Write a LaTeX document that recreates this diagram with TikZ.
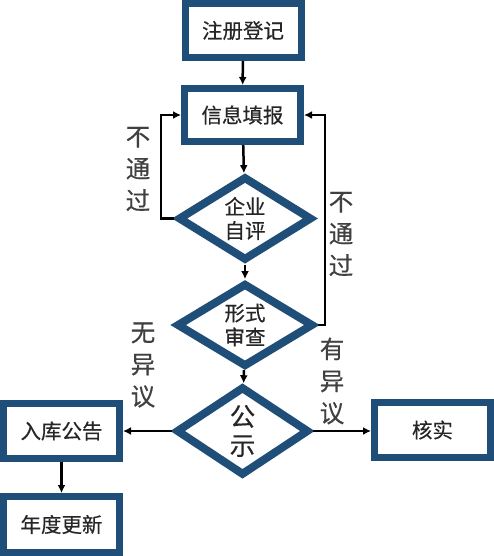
\documentclass[tikz,border=0pt]{standalone}
\usepackage{fontspec}
\setmainfont{Noto Sans CJK SC}[FakeBold=0.4]
\usetikzlibrary{shapes.geometric,arrows.meta}
\definecolor{bord}{HTML}{1F4E79}
\definecolor{txt}{HTML}{262626}
\definecolor{lbl}{HTML}{404040}
\begin{document}
\begin{tikzpicture}[x=1pt,y=-1pt,
  boxnode/.style={draw=bord,line width=7pt,rectangle,inner sep=0pt,
    minimum width=116pt,minimum height=54pt,text=txt,font=\fontsize{20.5}{23}\selectfont},
  dia/.style={draw=bord,line width=8pt,diamond,line join=miter,inner sep=0pt,
    text=txt,font=\fontsize{20.5}{24}\selectfont,align=center},
  conn/.style={draw=black,line width=2.5pt,-{Latex[length=8pt,width=8pt]}},
  side/.style={text=lbl,font=\fontsize{24.5}{32}\selectfont,align=center}]
\useasboundingbox (0,0) rectangle (494,556);
\node[boxnode] (reg) at (243,30.5) {注册登记};
\node[boxnode,minimum height=53pt] (fill) at (242.5,115) {信息填报};
\node[dia,minimum width=134pt,minimum height=79pt] (self) at (245,218.5) {企业\\自评};
\node[dia,minimum width=137pt,minimum height=78pt] (form) at (245,325) {形式\\审查};
\node[dia,minimum width=133pt,minimum height=89pt,font=\fontsize{25.5}{29}\selectfont] (pub) at (242.5,431) {公\\示};
\node[boxnode,minimum height=55pt] (store) at (61.5,431) {入库公告};
\node[boxnode,minimum height=56pt] (year) at (61.5,524.5) {年度更新};
\node[boxnode,minimum height=55pt] (check) at (432.5,430) {核实};
\coordinate (lc1) at (161,218.5);
\coordinate (lc2) at (161,115);
\coordinate (rc1) at (325,325);
\coordinate (rc2) at (325,115);
\draw[conn] (reg) -- (fill);
\draw[conn] (fill) -- (self);
\draw[conn] (self) -- (form);
\draw[conn] (form) -- (pub);
\draw[conn] (pub.west) -- (store.east |- pub.west);
\draw[conn] (pub.east) -- (check.west |- pub.east);
\draw[conn] (store) -- (year);
\draw[conn] (self.west) -- (lc1) -- (lc2) -- (fill.west);
\draw[conn] (form.east) -- (rc1) -- (rc2) -- (fill.east);
\node[side] (l1) at (138,169) {不\\通\\过};
\node[side] (l2) at (341,234) {不\\通\\过};
\node[side] (l3) at (143,365) {无\\异\\议};
\node[side] (l4) at (332,381) {有\\异\\议};
\end{tikzpicture}
\end{document}
